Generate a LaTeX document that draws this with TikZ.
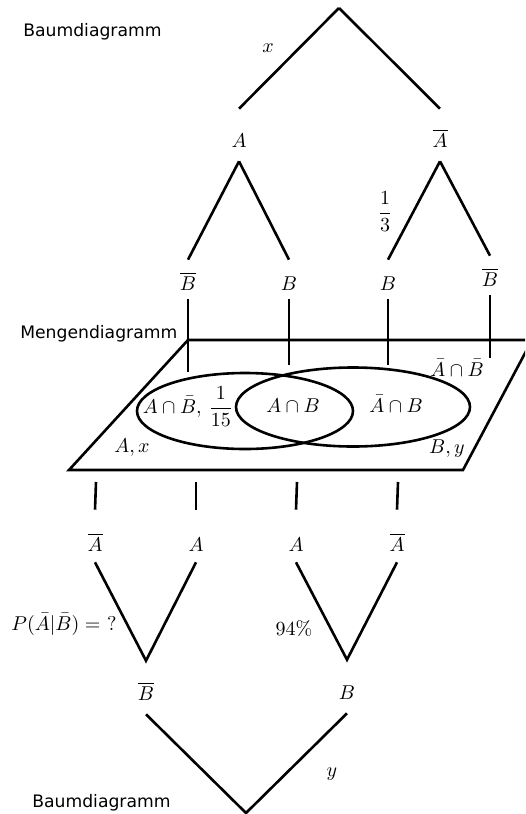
\documentclass[tikz,border=0pt]{standalone}
\usepackage{amsmath}
\usepackage{amssymb}
\usepackage{fontspec}
\newfontfamily\headfont{DejaVu Sans}
\usetikzlibrary{calc}

\begin{document}
\begin{tikzpicture}[x=0.5pt,y=-0.5pt,line width=1.3pt,
  heading/.style={font=\fontsize{8.6}{10}\selectfont\headfont,anchor=base west,inner sep=0pt},
  lvlA/.style={inner sep=0pt,anchor=base,text height=18.5pt,text depth=6.5pt},
  lvlB/.style={inner sep=0pt,anchor=base,text height=14.5pt,text depth=4pt},
  lvlC/.style={inner sep=0pt,anchor=base,text height=20pt,text depth=5pt},
  lvlD/.style={inner sep=0pt,anchor=base,text height=19pt,text depth=6.5pt},
  lab/.style={anchor=base}]
\useasboundingbox (0,0) rectangle (525,814);
\clip (0,0) rectangle (525,814);

% oberes Baumdiagramm
\node[heading] (h1) at (22,36) {Baumdiagramm};
\coordinate (t) at (339,8);
\node[lvlA] (tA) at (239,147) {$A$};
\node[lvlA] (tAq) at (440,147) {$\overline{A}$};
\draw (t) -- (tA.north);
\draw (t) -- (tAq.north);
\node[lab] (lx) at (268,52) {$x$};

\node[lvlB] (tB1) at (188,290) {$\overline{B}$};
\node[lvlB] (tB2) at (289,290) {$B$};
\node[lvlB] (tB3) at (388,290) {$B$};
\node[lvlB] (tB4) at (490,286) {$\overline{B}$};
\draw (tA.south) -- (tB1.north);
\draw (tA.south) -- (tB2.north);
\draw (tAq.south) -- (tB3.north);
\draw (tAq.south) -- (tB4.north);
\node[lab] (l13) at (385,218) {$\dfrac{1}{3}$};

\coordinate (e1) at (188,372);
\coordinate (e2) at (289,365);
\coordinate (e3) at (388,365);
\coordinate (e4) at (490,358);
\draw (tB1.south) -- (e1);
\draw (tB2.south) -- (e2);
\draw (tB3.south) -- (e3);
\draw (tB4.south) -- (e4);

% Mengendiagramm
\node[heading] (h2) at (19,338) {Mengendiagramm};
\draw (188,340) -- (532,340) -- (463,470) -- (69,470) -- cycle;
\draw (245,411) ellipse [x radius=108, y radius=38];
\draw (353,407) ellipse [x radius=117, y radius=39.5];
\node[lab] (m1) at (188,413) {$A\cap\bar{B},\,\dfrac{1}{15}$};
\node[lab] (m2) at (293,412) {$A\cap B$};
\node[lab] (m3) at (396,412) {$\bar{A}\cap B$};
\node[lab] (m4) at (457,376) {$\bar{A}\cap\bar{B}$};
\node[lab] (m5) at (132,452) {$A,x$};
\node[lab] (m6) at (447,453) {$B,y$};

% unteres Baumdiagramm
\coordinate (f1) at (96,482);
\coordinate (f2) at (196,482);
\coordinate (f3) at (297,482);
\coordinate (f4) at (398,482);
\node[lvlC] (uA1) at (95,551) {$\overline{A}$};
\node[lvlC] (uA2) at (196,551) {$A$};
\node[lvlC] (uA3) at (296,551) {$A$};
\node[lvlC] (uA4) at (397,551) {$\overline{A}$};
\draw (f1) -- (uA1.north);
\draw (f2) -- (uA2.north);
\draw (f3) -- (uA3.north);
\draw (f4) -- (uA4.north);

\node[lvlD] (uB1) at (146,700) {$\overline{B}$};
\node[lvlD] (uB2) at (347,699) {$B$};
\draw (uA1.south) -- (uB1.north) -- (uA2.south);
\draw (uA3.south) -- (uB2.north) -- (uA4.south);
\node[lab] (lP) at (64,630) {$P(\bar{A}|\bar{B})=\ ?$};
\node[lab] (l94) at (294,635) {$94\%$};

\coordinate (u) at (246,813);
\draw (uB1.south) -- (u) -- (uB2.south);
\node[lab] (ly) at (332,776) {$y$};
\node[heading] (h3) at (31,807) {Baumdiagramm};
\end{tikzpicture}
\end{document}
